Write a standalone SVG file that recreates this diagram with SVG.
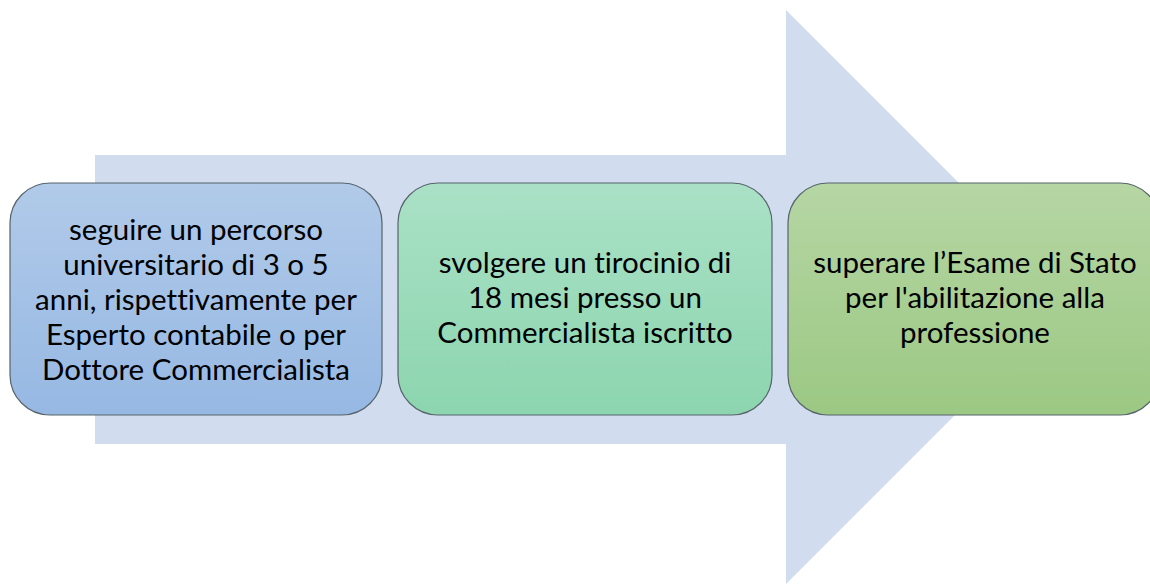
<svg xmlns="http://www.w3.org/2000/svg" width="1150" height="584" viewBox="0 0 1150 584">
<style>
.box{stroke:#56636a;stroke-width:1.2}
.t{font-family:Lato,"Open Sans","Liberation Sans",sans-serif;font-size:29.5px;fill:#000;text-anchor:middle;font-variant-ligatures:none}
</style>
<defs>
<linearGradient id="g1" x1="0" y1="0" x2="0" y2="1"><stop offset="0" stop-color="#b1cae9"/><stop offset="1" stop-color="#96b8e3"/></linearGradient>
<linearGradient id="g2" x1="0" y1="0" x2="0" y2="1"><stop offset="0" stop-color="#aae1c6"/><stop offset="1" stop-color="#8cd5af"/></linearGradient>
<linearGradient id="g3" x1="0" y1="0" x2="0" y2="1"><stop offset="0" stop-color="#b6d6a4"/><stop offset="1" stop-color="#9bc883"/></linearGradient>
</defs>
<rect width="1150" height="584" fill="#fff"/>
<g id="arrow">
<polygon points="95,155 786,155 786,10 1073,297 786,584 786,444 95,444" fill="#d1ddef"/>
</g>
<g id="step1">
<rect class="box" x="10" y="183" width="372" height="232" rx="40" fill="url(#g1)"/>
<text class="t" x="196" y="240">seguire un percorso</text>
<text class="t" x="196" y="275">universitario di 3 o 5</text>
<text class="t" x="196" y="310">anni, rispettivamente per</text>
<text class="t" x="196" y="345">Esperto contabile o per</text>
<text class="t" x="196" y="380">Dottore Commercialista</text>
</g>
<g id="step2">
<rect class="box" x="398" y="183" width="374" height="232" rx="40" fill="url(#g2)"/>
<text class="t" x="585" y="273">svolgere un tirocinio di</text>
<text class="t" x="585" y="308">18 mesi presso un</text>
<text class="t" x="585" y="343">Commercialista iscritto</text>
</g>
<g id="step3">
<rect class="box" x="788" y="183" width="372" height="232" rx="40" fill="url(#g3)"/>
<text class="t" x="975" y="273">superare l’Esame di Stato</text>
<text class="t" x="975" y="308">per l'abilitazione alla</text>
<text class="t" x="975" y="343">professione</text>
</g>
</svg>
